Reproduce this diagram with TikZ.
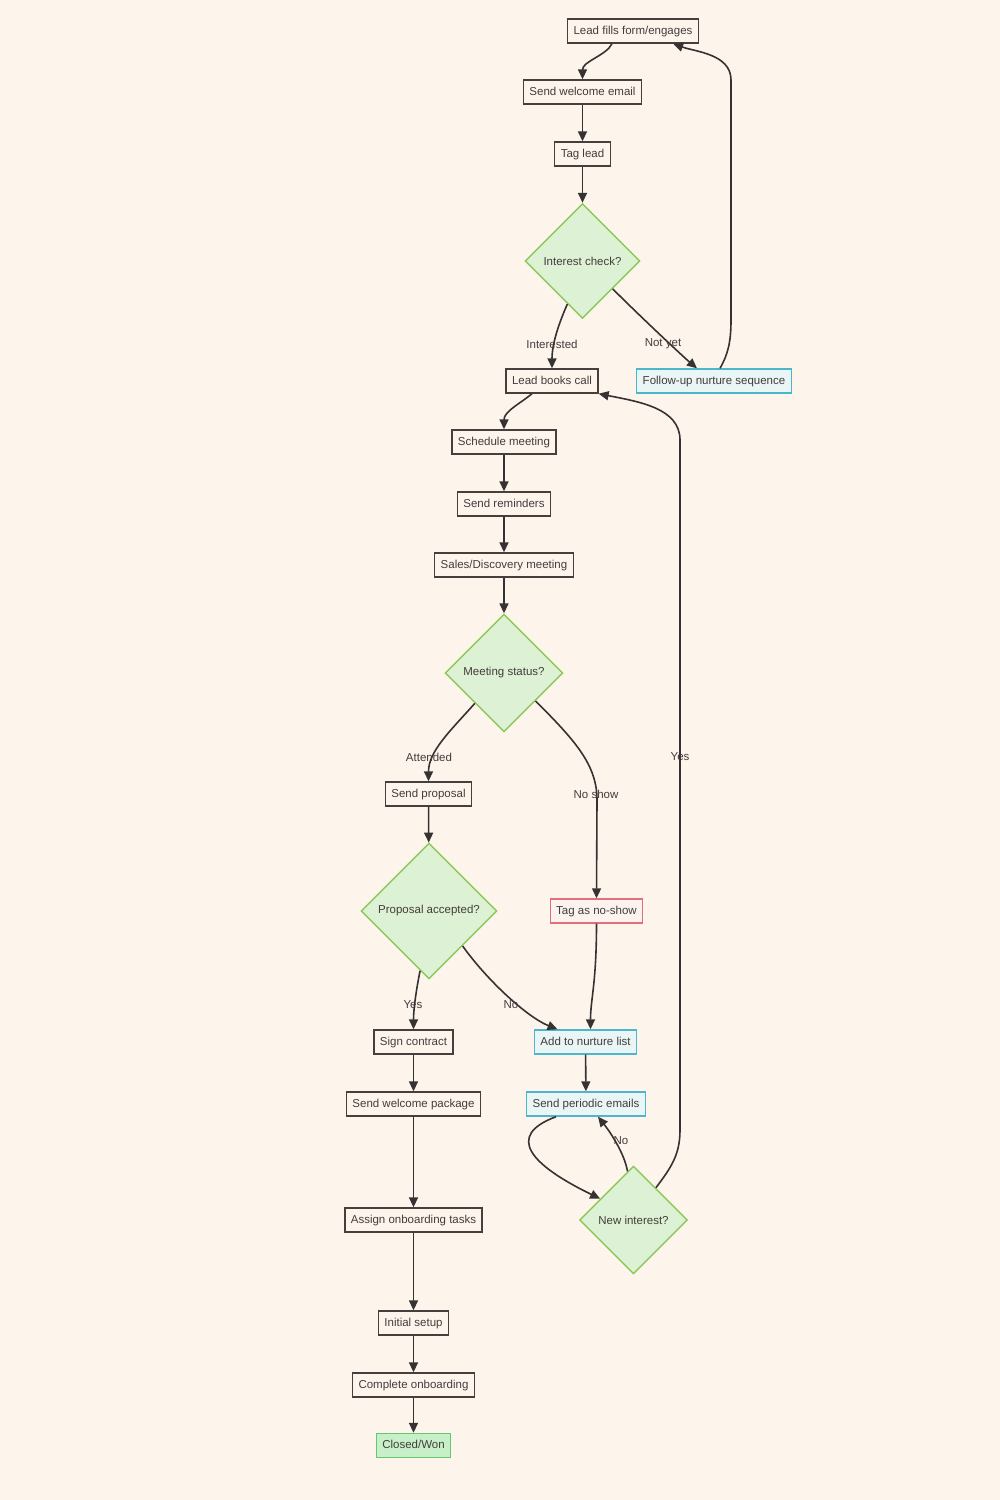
\documentclass[tikz,border=0pt]{standalone}
\usepackage{fontspec}
\setmainfont{Liberation Sans}
\usetikzlibrary{shapes.geometric,arrows.meta,calc}
\definecolor{bg}{RGB}{253,245,236}
\definecolor{boxc}{RGB}{72,62,62}
\definecolor{txt}{RGB}{68,60,60}
\definecolor{edgec}{RGB}{55,50,50}
\definecolor{decf}{RGB}{221,241,212}
\definecolor{decb}{RGB}{140,200,90}
\definecolor{bluef}{RGB}{233,246,245}
\definecolor{blueb}{RGB}{75,182,204}
\definecolor{redf}{RGB}{253,243,238}
\definecolor{redb}{RGB}{226,112,124}
\definecolor{wonf}{RGB}{200,240,200}
\definecolor{wonb}{RGB}{100,200,112}
\tikzset{
  fnt/.style={font=\fontsize{11.5}{13}\selectfont, text=txt},
  box/.style={fnt, draw=boxc, fill=bg, line width=1.4pt, minimum height=24, inner xsep=6, inner ysep=0, text height=8.6pt, text depth=2.2pt},
  bluebox/.style={box, draw=blueb, fill=bluef},
  redbox/.style={box, draw=redb, fill=redf},
  wonbox/.style={box, draw=wonb, fill=wonf},
  dec/.style={fnt, diamond, aspect=1, draw=decb, fill=decf, line width=1.4pt, inner sep=0},
  arr/.style={draw=edgec, line width=1.6pt, -{Triangle[length=10pt,width=9pt]}},
  lab/.style={fnt, inner sep=0}
}
\begin{document}
\begin{tikzpicture}[x=1pt,y=-1pt]
\fill[bg] (0,0) rectangle (1000,1500);
\useasboundingbox (0,0) rectangle (1000,1500);

% nodes
\node[box] (lead) at (633,31) {Lead fills form/engages};
\node[box] (wel) at (582.5,92) {Send welcome email};
\node[box] (tag) at (582.5,154) {Tag lead};
\node[dec, minimum width=115, minimum height=115] (ic) at (582.5,261) {Interest check?};
\node[box] (lbc) at (552,381) {Lead books call};
\node[bluebox] (fol) at (714,381) {Follow-up nurture sequence};
\node[box] (sch) at (504,442) {Schedule meeting};
\node[box] (rem) at (504,504) {Send reminders};
\node[box] (sdm) at (504,565) {Sales/Discovery meeting};
\node[dec, minimum width=118, minimum height=118] (ms) at (504,673) {Meeting status?};
\node[box] (sp) at (428.5,794) {Send proposal};
\node[dec, minimum width=136, minimum height=136] (pa) at (429,911) {Proposal accepted?};
\node[redbox] (tns) at (596.5,911) {Tag as no-show};
\node[box] (sc) at (413.5,1042) {Sign contract};
\node[bluebox] (anl) at (585.5,1042) {Add to nurture list};
\node[box] (swp) at (413.5,1104) {Send welcome package};
\node[bluebox] (spe) at (586,1104) {Send periodic emails};
\node[dec, minimum width=108, minimum height=108] (ni) at (633.5,1220) {New interest?};
\node[box] (aot) at (413.5,1220) {Assign onboarding tasks};
\node[box] (is) at (413.5,1323) {Initial setup};
\node[box] (co) at (413.5,1385) {Complete onboarding};
\node[wonbox] (cw) at (413.5,1445.5) {Closed/Won};

% helper coordinates
\coordinate (f1) at (731,320);
\coordinate (f2) at (731,80);
\coordinate (ns1) at (597,800);
\coordinate (y1) at (680,1130);
\coordinate (y2) at (680,440);

% edges
\draw[arr] ($(lead.south)+(-21,0)$) .. controls +(-6,12) and +(0,-18) .. (wel.north);
\draw[arr] (wel) -- (tag);
\draw[arr] (tag) -- (ic);
\draw[arr] ($(ic.west)!0.74!(ic.south)$) .. controls +(-8,18) and +(0,-25) .. (lbc.north);
\draw[arr] ($(ic.south)!0.52!(ic.east)$) .. controls +(30,30) and +(-12,-10) .. ($(fol.north)+(-17,0)$);
\draw[arr] ($(fol.north)+(6,0)$) .. controls +(8,-14) and +(0,22) .. (f1) -- (f2) .. controls +(0,-26) and +(22,8) .. ($(lead.south east)+(-26,0)$);
\draw[arr] ($(lbc.south)+(-20,0)$) .. controls +(-12,10) and +(0,-18) .. (sch.north);
\draw[arr] (sch) -- (rem);
\draw[arr] (rem) -- (sdm);
\draw[arr] (sdm) -- (ms);
\draw[arr] ($(ms.west)!0.51!(ms.south)$) .. controls +(-25,28) and +(0,-30) .. (sp.north);
\draw[arr] ($(ms.south)!0.53!(ms.east)$) .. controls +(40,40) and +(0,-35) .. (ns1) -- (tns.north);
\draw[arr] (sp) -- (pa);
\draw[arr] ($(pa.west)!0.87!(pa.south)$) .. controls +(-4,20) and +(0,-20) .. (sc.north);
\draw[arr] ($(pa.south)!0.49!(pa.east)$) .. controls +(25,35) and +(-30,-12) .. ($(anl.north)+(-28,0)$);
\draw[arr] (tns.south) .. controls +(0,60) and +(0,-30) .. ($(anl.north)+(5,0)$);
\draw[arr] (anl) -- (spe);
\draw[arr] ($(spe.south)+(-30,0)$) .. controls +(-51,19) and +(-70,-34) .. ($(ni.west)!0.39!(ni.north)$);
\draw[arr] ($(ni.west)!0.89!(ni.north)$) .. controls +(-3,-18) and +(12,15) .. ($(spe.south)+(12,0)$);
\draw[arr] ($(ni.north)!0.41!(ni.east)$) .. controls +(15,-20) and +(0,25) .. (y1) -- (y2) .. controls +(0,-32) and +(40,8) .. (lbc.south east);
\draw[arr] (sc) -- (swp);
\draw[arr] (swp) -- (aot);
\draw[arr] (aot) -- (is);
\draw[arr] (is) -- (co);
\draw[arr] (co) -- (cw);

% edge labels
\node[lab] (lInt) at (552,344) {Interested};
\node[lab] (lNot) at (663,344) {Not yet};
\node[lab] (lAtt) at (429,757) {Attended};
\node[lab] (lNs) at (596,794) {No show};
\node[lab] (lYes1) at (413,1005) {Yes};
\node[lab] (lNo1) at (511,1005) {No};
\node[lab] (lNo2) at (621,1141) {No};
\node[lab] (lYes2) at (680,757) {Yes};
\end{tikzpicture}
\end{document}
